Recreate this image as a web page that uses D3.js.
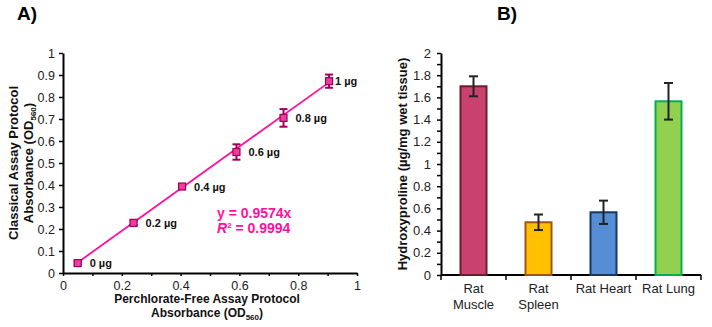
<!DOCTYPE html>
<html>
<head>
<meta charset="utf-8">
<script src="https://cdn.jsdelivr.net/npm/d3@7"></script>
<style>
  body { margin: 0; background: #fff; }
  svg { display: block; font-family: "Liberation Sans", Arial, sans-serif; }
  .axis path, .axis line { stroke: #000; }
  .axis text { fill: #222; }
</style>
</head>
<body>
<svg id="chart" width="712" height="327"></svg>
<script>
// panel A: standard curve
var perchlorateFree = [0.05, 0.24, 0.405, 0.59, 0.75, 0.905];
var classical = [0.045, 0.228, 0.393, 0.55, 0.705, 0.872];
var classicalErr = [0.006, 0.01, 0.006, 0.035, 0.04, 0.03];
var amounts = ["0 µg", "0.2 µg", "0.4 µg", "0.6 µg", "0.8 µg", "1 µg"];
var slope = 0.9574;
var rSquared = 0.9994;

// panel B: tissues
var tissues = ["Rat Muscle", "Rat Spleen", "Rat Heart", "Rat Lung"];
var tissueLines = [["Rat", "Muscle"], ["Rat", "Spleen"], ["Rat Heart"], ["Rat Lung"]];
var hydroxyproline = [1.70, 0.475, 0.565, 1.565];
var hydroxyErr = [0.09, 0.07, 0.105, 0.165];
var tissueFill = ["#C9426F", "#FFC000", "#558ED5", "#92D050"];
var tissueStroke = ["#6B1F24", "#A0560F", "#17375E", "#00B050"];

var svg = d3.select("#chart");
svg.append("rect").attr("width", 712).attr("height", 327).attr("fill", "#fff");

var fmt = function (d) { return +d.toFixed(1) + ""; };
var tenths = function (n) { return d3.range(0, n + 1).map(function (i) { return i / 10; }); };

// ---------- A ----------
var xA = d3.scaleLinear().domain([0, 1]).range([63, 357]);
var yA = d3.scaleLinear().domain([0, 1]).range([273, 53]);

svg.append("text")
  .attr("x", 17).attr("y", 20)
  .attr("font-size", 19).attr("font-weight", "bold")
  .text("A)");

svg.append("g")
  .attr("class", "axis")
  .attr("transform", "translate(63,0)")
  .call(d3.axisLeft(yA).tickValues(tenths(10))
    .tickSize(4).tickSizeOuter(0).tickPadding(4).tickFormat(fmt))
  .call(function (g) {
    g.select(".domain").attr("stroke-width", 2);
    g.selectAll(".tick line").attr("stroke-width", 1.5);
    g.selectAll("text").attr("font-size", 12.5);
  });

svg.append("g")
  .attr("class", "axis")
  .attr("transform", "translate(0,273)")
  .call(d3.axisBottom(xA).tickValues(tenths(10))
    .tickSize(3).tickSizeOuter(0).tickPadding(5).tickFormat(fmt))
  .call(function (g) {
    g.select(".domain").attr("stroke-width", 2);
    g.selectAll(".tick line").attr("stroke-width", 1.5);
    g.selectAll(".tick").filter(function (d, i) { return i % 2 === 1; }).select("text").remove();
    g.selectAll("text").attr("font-size", 12.5);
  });

// axis titles A
var yTitleA = svg.append("text")
  .attr("transform", "translate(0,163) rotate(-90)")
  .attr("text-anchor", "middle")
  .attr("font-size", 13).attr("font-weight", "bold").attr("fill", "#111");
yTitleA.append("tspan").attr("x", 0).attr("y", 18).text("Classical Assay  Protocol");
var l2 = yTitleA.append("tspan").attr("x", 0).attr("y", 33).text("Absorbance (OD");
l2.append("tspan").attr("font-size", 8).attr("dy", 3).text("560");
l2.append("tspan").attr("dy", -3).text(")");

var xTitleA = svg.append("text")
  .attr("text-anchor", "middle")
  .attr("font-size", 12).attr("font-weight", "bold").attr("fill", "#111");
xTitleA.append("tspan").attr("x", 207).attr("y", 303).text("Perchlorate-Free Assay Protocol");
var l4 = xTitleA.append("tspan").attr("x", 207).attr("y", 317).text("Absorbance (OD");
l4.append("tspan").attr("font-size", 8).attr("dy", 3).text("560");
l4.append("tspan").attr("dy", -3).text(")");

// trendline
var xMin = d3.min(perchlorateFree), xMax = d3.max(perchlorateFree);
svg.append("line")
  .attr("x1", xA(xMin)).attr("y1", yA(slope * xMin))
  .attr("x2", xA(xMax)).attr("y2", yA(slope * xMax))
  .attr("stroke", "#FF0FA0").attr("stroke-width", 1.8);

// error bars
var pts = svg.append("g");
perchlorateFree.forEach(function (xv, i) {
  var cx = xA(xv), lo = yA(classical[i] - classicalErr[i]), hi = yA(classical[i] + classicalErr[i]);
  pts.append("line").attr("x1", cx).attr("x2", cx).attr("y1", lo).attr("y2", hi)
    .attr("stroke", "#A0005C").attr("stroke-width", 2);
  [lo, hi].forEach(function (yy) {
    pts.append("line").attr("x1", cx - 4).attr("x2", cx + 4).attr("y1", yy).attr("y2", yy)
      .attr("stroke", "#A0005C").attr("stroke-width", 2);
  });
});

pts.selectAll("rect.marker")
  .data(perchlorateFree)
  .enter()
  .append("rect")
  .attr("class", "marker")
  .attr("x", function (d) { return xA(d) - 3.5; })
  .attr("y", function (d, i) { return yA(classical[i]) - 3.5; })
  .attr("width", 7).attr("height", 7)
  .attr("fill", "#EE3D9C").attr("stroke", "#9B0058").attr("stroke-width", 1.2);

pts.selectAll("text.amt")
  .data(amounts)
  .enter()
  .append("text")
  .attr("class", "amt")
  .attr("x", function (d, i) { return xA(perchlorateFree[i]) + (i === amounts.length - 1 ? 6 : 12); })
  .attr("y", function (d, i) { return yA(classical[i]) + 4; })
  .attr("font-size", 11).attr("font-weight", "bold").attr("fill", "#111")
  .text(function (d) { return d; });

var eq = svg.append("text")
  .attr("font-size", 14).attr("font-weight", "bold").attr("fill", "#FF0FA0");
eq.append("tspan").attr("x", 217).attr("y", 218).text("y = " + slope + "x");
var r2 = eq.append("tspan").attr("x", 217).attr("y", 233);
r2.append("tspan").attr("font-style", "italic").text("R");
r2.append("tspan").attr("font-size", 8).attr("dy", -5).text("2");
r2.append("tspan").attr("dy", 5).text(" = " + rSquared);

// ---------- B ----------
var xB = d3.scaleBand().domain(tissues).range([441, 701]);
var yB = d3.scaleLinear().domain([0, 2]).range([275, 53]);

svg.append("text")
  .attr("x", 497).attr("y", 20)
  .attr("font-size", 19).attr("font-weight", "bold")
  .text("B)");

svg.append("g")
  .attr("class", "axis")
  .attr("transform", "translate(441,0)")
  .call(d3.axisLeft(yB).tickValues(tenths(20))
    .tickSize(4).tickSizeOuter(0).tickPadding(6).tickFormat(fmt))
  .call(function (g) {
    g.select(".domain").attr("stroke-width", 2);
    g.selectAll(".tick line").attr("stroke-width", 1.5);
    g.selectAll(".tick").filter(function (d, i) { return i % 2 === 1; }).select("text").remove();
    g.selectAll("text").attr("font-size", 13);
  });

var xAxisB = svg.append("g")
  .attr("class", "axis")
  .attr("transform", "translate(0,275)");
xAxisB.append("line").attr("x1", 441).attr("x2", 701).attr("stroke", "#000").attr("stroke-width", 2);
xAxisB.selectAll("line.sep")
  .data(tissues.map(function (t) { return xB(t); }).concat([xB(tissues[tissues.length - 1]) + xB.bandwidth()]))
  .enter()
  .append("line")
  .attr("class", "sep")
  .attr("x1", function (d) { return d; }).attr("x2", function (d) { return d; })
  .attr("y1", 0).attr("y2", 5)
  .attr("stroke", "#000").attr("stroke-width", 1.5);

xAxisB.selectAll("text.cat")
  .data(tissues)
  .enter()
  .append("text")
  .attr("class", "cat")
  .attr("text-anchor", "middle")
  .attr("font-size", 13).attr("fill", "#111")
  .each(function (d, i) {
    var t = d3.select(this);
    tissueLines[i].forEach(function (s, j) {
      t.append("tspan").attr("x", xB(d) + xB.bandwidth() / 2).attr("y", 18 + j * 16).text(s);
    });
  });

var barW = xB.bandwidth() * 0.4;
svg.selectAll("rect.bar")
  .data(hydroxyproline)
  .enter()
  .append("rect")
  .attr("class", "bar")
  .attr("x", function (d, i) { return xB(tissues[i]) + (xB.bandwidth() - barW) / 2; })
  .attr("y", function (d) { return yB(d); })
  .attr("width", barW)
  .attr("height", function (d) { return yB(0) - yB(d); })
  .attr("fill", function (d, i) { return tissueFill[i]; })
  .attr("stroke", function (d, i) { return tissueStroke[i]; })
  .attr("stroke-width", 2);

var errB = svg.append("g").attr("stroke", "#222").attr("stroke-width", 2);
hydroxyproline.forEach(function (v, i) {
  var cx = xB(tissues[i]) + xB.bandwidth() / 2;
  var lo = yB(v - hydroxyErr[i]), hi = yB(v + hydroxyErr[i]);
  errB.append("line").attr("x1", cx).attr("x2", cx).attr("y1", lo).attr("y2", hi);
  errB.append("line").attr("x1", cx - 4.5).attr("x2", cx + 4.5).attr("y1", lo).attr("y2", lo);
  errB.append("line").attr("x1", cx - 4.5).attr("x2", cx + 4.5).attr("y1", hi).attr("y2", hi);
});

svg.append("text")
  .attr("transform", "translate(407,164) rotate(-90)")
  .attr("text-anchor", "middle")
  .attr("font-size", 13).attr("font-weight", "bold").attr("fill", "#111")
  .text("Hydroxyproline (µg/mg wet tissue)");
</script>
</body>
</html>
